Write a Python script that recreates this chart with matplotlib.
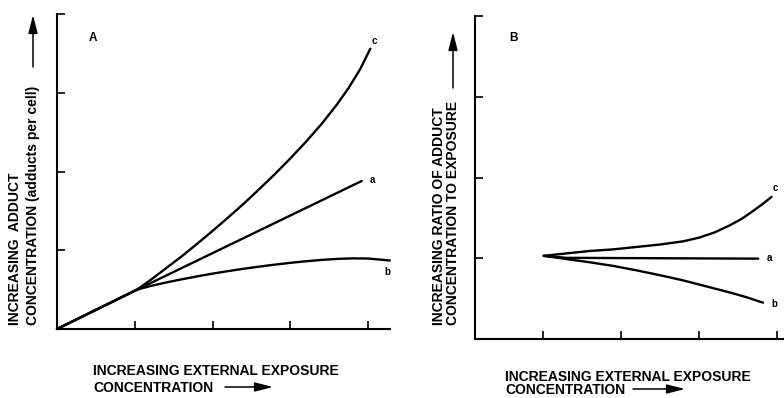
import matplotlib
matplotlib.use("Agg")
import matplotlib.pyplot as plt
from matplotlib.patches import FancyArrowPatch

plt.rcParams["font.family"] = ["Liberation Sans", "DejaVu Sans"]
plt.rcParams["font.weight"] = "bold"

W, H = 784, 398

# ---- Panel A: adduct concentration vs external exposure ----
a_x = [0, 1.03, 3.92]
a_y = [0, 0.50, 1.88]
b_x = [0, 1.03, 1.2, 1.4, 1.6, 1.8, 2.0, 2.2, 2.4, 2.6, 2.8, 3.0, 3.2, 3.4, 3.6, 3.8, 4.0, 4.28]
b_y = [0, 0.50, 0.545, 0.59, 0.63, 0.668, 0.703, 0.735, 0.765, 0.792, 0.817, 0.84,
       0.86, 0.877, 0.89, 0.897, 0.895, 0.87]
c_x = [0, 1.03, 1.2, 1.4, 1.6, 1.8, 2.0, 2.2, 2.4, 2.6, 2.8, 3.0, 3.2, 3.4, 3.6,
       3.75, 3.9, 4.03]
c_y = [0, 0.50, 0.62, 0.77, 0.92, 1.08, 1.245, 1.415, 1.59, 1.775, 1.965, 2.165,
       2.375, 2.60, 2.85, 3.06, 3.30, 3.56]

# ---- Panel B: ratio of adduct concentration to exposure ----
ra_x = [1.01, 1.3, 3.76]
ra_y = [1.03, 1.005, 0.995]
rb_x = [1.01, 1.3, 1.6, 1.9, 2.2, 2.5, 2.8, 3.1, 3.4, 3.6, 3.82]
rb_y = [1.03, 0.99, 0.95, 0.905, 0.85, 0.79, 0.725, 0.65, 0.575, 0.52, 0.45]
rc_x = [1.01, 1.3, 1.6, 1.9, 2.2, 2.5, 2.8, 3.0, 3.2, 3.4, 3.55, 3.7, 3.82, 3.93]
rc_y = [1.03, 1.06, 1.09, 1.11, 1.14, 1.17, 1.21, 1.255, 1.32, 1.41, 1.49, 1.59,
        1.675, 1.76]

tick_pos = [1, 2, 3, 4]

fig = plt.figure(figsize=(W / 100, H / 100), dpi=100)


def px_axes(left, top, right, bottom):
    return fig.add_axes([left / W, 1 - bottom / H, (right - left) / W, (bottom - top) / H])


def fpt(x, y):
    return (x / W, 1 - y / H)


def style(ax, xlim, ylim):
    ax.set_xlim(*xlim)
    ax.set_ylim(*ylim)
    for s in ("top", "right"):
        ax.spines[s].set_visible(False)
    for s in ("left", "bottom"):
        ax.spines[s].set_linewidth(1.5)
        ax.spines[s].set_color("black")
    ax.set_xticks(tick_pos)
    ax.set_yticks(tick_pos)
    ax.tick_params(direction="in", length=5.5, width=1.2, labelbottom=False,
                   labelleft=False, color="black")
    ax.patch.set_alpha(0)


line_kw = dict(color="black", lw=1.7, solid_capstyle="round", solid_joinstyle="round",
               clip_on=False)
lab_kw = dict(fontsize=7, fontweight="bold", textcoords="offset points",
              ha="center", va="center")

axA = px_axes(57, 14, 390, 329)
style(axA, (0, (390 - 57) / 77.75), (0, 4))
axA.plot(a_x, a_y, **line_kw)
axA.plot(b_x, b_y, **line_kw)
axA.plot(c_x, c_y, **line_kw)
axA.annotate("c", (c_x[-1], c_y[-1]), xytext=(3, 5.5), **lab_kw)
axA.annotate("a", (a_x[-1], a_y[-1]), xytext=(7.5, 0.5), **lab_kw)
axA.annotate("b", (b_x[-1], b_y[-1]), xytext=(-2, -8.5), **lab_kw)
fig.text(93 / W, 1 - 38 / H, "A", fontsize=8.5, fontweight="bold",
         ha="center", va="center")

axB = px_axes(475, 16, 784, 339)
style(axB, (1 - (543 - 475) / 78, 1 + (784 - 543) / 78), (0, 4))
axB.plot(ra_x, ra_y, **line_kw)
axB.plot(rb_x, rb_y, **line_kw)
axB.plot(rc_x, rc_y, **line_kw)
axB.annotate("c", (rc_x[-1], rc_y[-1]), xytext=(2.5, 6.5), **lab_kw)
axB.annotate("a", (ra_x[-1], ra_y[-1]), xytext=(8, 0.5), **lab_kw)
axB.annotate("b", (rb_x[-1], rb_y[-1]), xytext=(8.5, -1), **lab_kw)
fig.text(513 / W, 1 - 38 / H, "B", fontsize=8.5, fontweight="bold",
         ha="center", va="center")

txt = dict(fontsize=10, fontweight="bold", color="black")

# y-axis titles (rotated)
fig.text(*fpt(15, 325), "INCREASING  ADDUCT", rotation=90, ha="center", va="bottom", **txt)
fig.text(*fpt(33, 325), "CONCENTRATION (adducts per cell)", rotation=90,
         ha="center", va="bottom", **txt)
fig.text(*fpt(439, 325), "INCREASING RATIO OF ADDUCT", rotation=90,
         ha="center", va="bottom", **txt)
fig.text(*fpt(453, 325), "CONCENTRATION TO EXPOSURE", rotation=90,
         ha="center", va="bottom", **txt)

# x-axis titles
fig.text(*fpt(93, 375), "INCREASING EXTERNAL EXPOSURE", ha="left", va="baseline", **txt)
fig.text(*fpt(93, 392), "CONCENTRATION", ha="left", va="baseline", **txt)
fig.text(*fpt(505, 381), "INCREASING EXTERNAL EXPOSURE", ha="left", va="baseline", **txt)
fig.text(*fpt(505, 394), "CONCENTRATION", ha="left", va="baseline", **txt)


def arrow(x0, y0, x1, y1):
    fig.add_artist(FancyArrowPatch(fpt(x0, y0), fpt(x1, y1), transform=fig.transFigure,
                                   arrowstyle="-|>,head_length=1.1,head_width=0.28",
                                   mutation_scale=10, lw=1.1, color="black",
                                   shrinkA=0, shrinkB=0))


arrow(33, 67, 33, 15)
arrow(453, 88, 453, 32)
arrow(225, 387, 273, 387)
arrow(633, 389, 685, 389)

fig.savefig("out.png", dpi=100)
